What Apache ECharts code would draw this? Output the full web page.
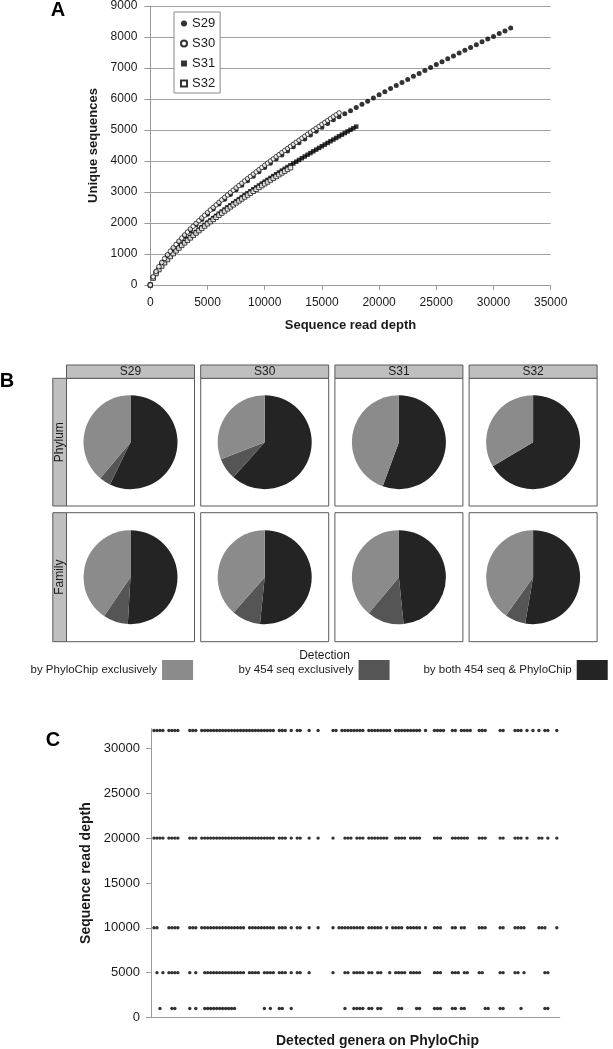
<!DOCTYPE html>
<html>
<head>
<meta charset="utf-8">
<script src="https://cdn.jsdelivr.net/npm/echarts@6/dist/echarts.min.js"></script>
<style>
html,body{margin:0;padding:0;background:#fff;}
#chart{width:613px;height:1049px;}
</style>
</head>
<body>
<div id="chart"></div>
<script>
// ---------- Panel A: rarefaction curves ----------
const depthS29 = [0,500,1000,1500,2000,2500,3000,3500,4000,4500,5000,5500,6000,6500,7000,7500,8000,8500,9000,9500,
  10000,10500,11000,11500,12000,12500,13000,13500,14000,14500,15000,15500,16000,16500,17000,17500,18000,18500,19000,19500,
  20000,20500,21000,21500,22000,22500,23000,23500,24000,24500,25000,25500,26000,26500,27000,27500,28000,28500,29000,29500,
  30000,30500,31000,31500];
const depthFine = [0,250,500,750,1000,1250,1500,1750,2000,2250,2500,2750,3000,3250,3500,3750,4000,4250,4500,4750,
  5000,5250,5500,5750,6000,6250,6500,6750,7000,7250,7500,7750,8000,8250,8500,8750,9000,9250,9500,9750,
  10000,10250,10500,10750,11000,11250,11500,11750,12000,12250,12500,12750,13000,13250,13500,13750,14000,14250,14500,14750,
  15000,15250,15500,15750,16000,16250,16500,16750,17000,17250,17500,17750,18000];
const uniqueS29 = [0,430,710,950,1170,1378,1572,1760,1940,2115,2285,2450,2610,2768,2922,3072,3220,3366,3509,3650,
  3789,3926,4061,4195,4326,4456,4585,4712,4838,4963,5086,5208,5329,5430,5525,5625,5725,5827,5931,6034,
  6136,6237,6337,6436,6535,6633,6730,6826,6921,7016,7110,7204,7297,7389,7481,7572,7663,7753,7843,7932,
  8020,8109,8196,8290];
const uniqueS30 = [0,266,440,590,727,854,975,1091,1202,1309,1413,1514,1612,1709,1803,1895,1986,2075,2164,2250,
  2335,2419,2502,2584,2665,2745,2825,2903,2980,3057,3133,3208,3283,3357,3431,3504,3576,3648,3719,3790,
  3860,3930,3999,4068,4136,4204,4272,4339,4405,4472,4538,4604,4669,4734,4798,4863,4927,4990,5053,5116,
  5179,5242,5304,5366,5427,5489,5550];
const uniqueS31 = [0,228,378,507,625,735,839,939,1034,1127,1217,1304,1389,1472,1553,1633,1712,1789,1865,1940,
  2014,2086,2158,2229,2299,2368,2437,2505,2572,2638,2704,2769,2834,2898,2962,3025,3087,3149,3211,3272,
  3333,3393,3453,3513,3572,3631,3690,3748,3806,3863,3920,3977,4033,4090,4146,4202,4257,4312,4367,4422,
  4476,4530,4584,4638,4691,4744,4797,4850,4902,4954,5006,5058,5110];
const uniqueS32 = [0,223,370,497,612,720,822,920,1013,1104,1193,1278,1361,1442,1522,1601,1678,1754,1828,1902,
  1974,2045,2115,2185,2253,2321,2388,2455,2521,2586,2650,2714,2777,2840,2903,2964,3025,3086,3147,3207,
  3266,3325,3384,3443,3501,3559,3616,3673,3730,3787];
const yTicksA = [0,1000,2000,3000,4000,5000,6000,7000,8000,9000];

// ---------- Panel B: detection pies (percent) ----------
const samples = ['S29','S30','S31','S32'];
const levels = ['Phylum','Family'];
const detectionNames = ['by both 454 seq & PhyloChip','by 454 seq exclusively','by PhyloChip exclusively'];
const phylumBoth   = [57.2, 61.6, 55.6, 66.4];
const phylum454    = [3.9, 7.5, 0, 0];
const phylumChip   = [38.9, 30.9, 44.4, 33.6];
const familyBoth   = [50.9, 51.6, 48.4, 52.7];
const family454    = [8.6, 9.9, 12.7, 7.1];
const familyChip   = [40.5, 38.5, 38.9, 40.2];

// ---------- Panel C: detected genera by read depth ----------
const readDepthLevels = [32000, 20000, 10000, 5000, 1000];
const genera32000 = [1,2,3,4,6,7,8,9,13,14,15,17,18,19,20,21,22,23,24,25,26,27,28,29,30,31,32,33,34,35,36,37,38,39,40,41,
  43,44,45,47,49,50,53,56,61,62,64,65,66,67,68,69,70,71,73,74,75,76,77,78,79,80,82,83,84,85,86,87,88,89,90,92,
  95,96,97,98,101,102,104,105,106,107,110,111,112,117,118,122,123,124,126,128,130,132,133,136];
const genera20000 = [1,2,3,4,6,7,8,9,13,14,15,17,18,19,20,21,22,23,24,25,26,27,28,29,30,31,32,33,34,35,36,37,38,39,40,41,
  43,44,45,47,49,50,53,56,61,65,66,67,69,70,71,73,74,75,76,77,78,79,82,83,84,85,87,88,89,90,
  95,96,97,101,102,103,104,105,106,110,111,112,117,118,122,123,124,126,130,131,133,136];
const genera10000 = [1,2,6,7,8,9,13,14,15,17,18,19,20,21,22,23,24,25,26,27,28,29,30,31,33,34,35,36,37,38,39,40,41,
  43,44,45,47,49,50,53,56,61,63,64,65,66,67,68,69,70,71,73,74,75,76,77,79,81,82,83,84,86,87,88,89,90,92,
  95,96,97,101,102,104,105,110,111,112,117,118,122,123,124,125,130,131,132,136];
const genera5000 = [2,4,6,7,8,9,13,15,18,19,20,21,22,23,24,25,26,27,28,29,30,31,33,34,35,36,38,39,40,41,
  43,44,45,47,49,50,53,61,65,66,68,69,70,71,73,74,76,77,80,82,83,84,85,87,88,89,90,
  95,96,97,101,102,103,105,106,110,111,117,118,122,123,125,132,133];
const genera1000 = [3,7,8,13,15,18,19,20,21,22,23,24,25,26,27,28,38,40,43,44,47,65,68,69,70,71,73,74,76,77,
  83,84,89,90,95,96,97,101,102,104,105,112,113,117,118,124,132,133];
const generaByDepth = [genera32000, genera20000, genera10000, genera5000, genera1000];

const FONT = 'Liberation Sans, Arial, sans-serif';
const TXT = '#1a1a1a';
const AX = '#9a9a9a';

function pairs(xs, ys){ return ys.map((y,i)=>[xs[i], y]); }
const plain = v => String(v);

const series = [];
// Panel A
series.push({name:'S29', type:'scatter', xAxisIndex:0, yAxisIndex:0, symbol:'circle', symbolSize:5,
  itemStyle:{color:'#000'}, data:pairs(depthS29, uniqueS29), silent:true, z:2});
series.push({name:'S31', type:'scatter', xAxisIndex:0, yAxisIndex:0, symbol:'rect', symbolSize:4.5,
  itemStyle:{color:'#000'}, data:pairs(depthFine, uniqueS31), silent:true, z:2});
series.push({name:'S32', type:'scatter', xAxisIndex:0, yAxisIndex:0, symbol:'rect', symbolSize:4.5,
  itemStyle:{color:'#fff', borderColor:'#000', borderWidth:0.9}, data:pairs(depthFine, uniqueS32), silent:true, z:3});
series.push({name:'S30', type:'scatter', xAxisIndex:0, yAxisIndex:0, symbol:'circle', symbolSize:4.5,
  itemStyle:{color:'#fff', borderColor:'#000', borderWidth:0.9}, data:pairs(depthFine, uniqueS30), silent:true, z:3});

// Panel B
const colLeft = [66.5, 200.7, 334.9, 469.1];
const panelW = 128;
const rowTop = [378.3, 512.7];
const rowH = [127.7, 129];
const pieColors = {'by both 454 seq & PhyloChip':'#242424','by 454 seq exclusively':'#555555','by PhyloChip exclusively':'#8b8b8b'};
const pieValues = [[phylumBoth, phylum454, phylumChip],[familyBoth, family454, familyChip]];
levels.forEach((lv, r)=>{
  samples.forEach((s, c)=>{
    const data = detectionNames.map((n, k)=>({name:n, value:pieValues[r][k][c], itemStyle:{color:pieColors[n]}}));
    series.push({type:'pie', name:lv+' '+s, center:[colLeft[c]+panelW/2, rowTop[r]+rowH[r]/2], radius:47,
      startAngle:90, clockwise:true, label:{show:false}, labelLine:{show:false}, silent:true,
      itemStyle:{borderWidth:0}, emphasis:{disabled:true}, data:data});
  });
});

// Panel C
readDepthLevels.forEach((d, k)=>{
  series.push({name:'depth '+d, type:'scatter', xAxisIndex:1, yAxisIndex:1, symbol:'circle', symbolSize:3.4,
    itemStyle:{color:'#000'}, data:generaByDepth[k].map(g=>[g, d]), silent:true});
});

// Decorations for panel B
const graphics = [];
levels.forEach((lv, r)=>{
  samples.forEach((s, c)=>{
    graphics.push({type:'rect', shape:{x:colLeft[c], y:rowTop[r], width:panelW, height:rowH[r]},
      style:{fill:'transparent', stroke:'#5a5a5a', lineWidth:1}});
  });
  graphics.push({type:'rect', shape:{x:52.8, y:rowTop[r], width:13.7, height:rowH[r]},
    style:{fill:'#bfbfbf', stroke:'#5a5a5a', lineWidth:1}});
  graphics.push({type:'text', x:59.6, y:rowTop[r]+rowH[r]/2, rotation:Math.PI/2,
    style:{text:lv, font:'12px '+FONT, fill:TXT, textAlign:'center', textVerticalAlign:'middle'}});
});
samples.forEach((s, c)=>{
  graphics.push({type:'rect', shape:{x:colLeft[c], y:365, width:panelW, height:13.3},
    style:{fill:'#bfbfbf', stroke:'#5a5a5a', lineWidth:1}});
  graphics.push({type:'text', x:colLeft[c]+panelW/2, y:372, style:{text:s, font:'12px '+FONT, fill:TXT, textAlign:'center', textVerticalAlign:'middle'}});
});
graphics.push({type:'text', x:324.5, y:656, style:{text:'Detection', font:'12px '+FONT, fill:TXT, textAlign:'center', textVerticalAlign:'middle'}});
// Panel letters & C x-title
graphics.push({type:'text', x:58, y:10, style:{text:'A', font:'bold 20px '+FONT, fill:'#000', textAlign:'center', textVerticalAlign:'middle'}});
graphics.push({type:'text', x:7, y:381, style:{text:'B', font:'bold 20px '+FONT, fill:'#000', textAlign:'center', textVerticalAlign:'middle'}});
graphics.push({type:'text', x:53, y:740, style:{text:'C', font:'bold 20px '+FONT, fill:'#000', textAlign:'center', textVerticalAlign:'middle'}});
graphics.push({type:'text', x:377.5, y:1040.7, style:{text:'Detected genera on PhyloChip', font:'bold 14px '+FONT, fill:TXT, textAlign:'center', textVerticalAlign:'middle'}});

const pieLegend = (name, left)=>({data:[name], left:left, top:660, padding:0, align:'right', icon:'rect',
  itemWidth:31, itemHeight:20, selectedMode:false, textStyle:{fontSize:11.5, color:TXT, fontFamily:FONT}});

const option = {
  animation:false,
  backgroundColor:'#fff',
  textStyle:{fontFamily:FONT},
  grid:[
    {left:150.3, top:4.2, width:400.4, height:280.8, containLabel:false},
    {left:151, top:728.7, width:408.8, height:288.8, containLabel:false}
  ],
  xAxis:[
    {gridIndex:0, type:'value', min:0, max:35000, interval:5000,
     axisLine:{show:true, lineStyle:{color:AX}}, axisTick:{show:true, length:5, lineStyle:{color:AX}},
     axisLabel:{fontSize:12, color:TXT, margin:12, formatter:plain}, splitLine:{show:false},
     name:'Sequence read depth', nameLocation:'middle', nameGap:34,
     nameTextStyle:{fontWeight:'bold', fontSize:13, color:TXT}},
    {gridIndex:1, type:'value', min:0, max:137,
     axisLine:{show:true, lineStyle:{color:AX}}, axisTick:{show:false}, axisLabel:{show:false}, splitLine:{show:false}}
  ],
  yAxis:[
    {gridIndex:0, type:'value', min:yTicksA[0], max:yTicksA[yTicksA.length-1], interval:1000,
     axisLine:{show:true, lineStyle:{color:AX}}, axisTick:{show:true, length:6, lineStyle:{color:AX}},
     axisLabel:{fontSize:12, color:TXT, margin:13, formatter:plain}, splitLine:{show:true, lineStyle:{color:'#a0a0a0'}},
     name:'Unique sequences', nameLocation:'middle', nameGap:37,
     nameTextStyle:{fontWeight:'bold', fontSize:13, color:TXT}},
    {gridIndex:1, type:'value', min:0, max:32200, interval:5000,
     axisLine:{show:true, lineStyle:{color:AX}}, axisTick:{show:true, length:5, lineStyle:{color:AX}},
     axisLabel:{fontSize:13, color:TXT, margin:11, showMaxLabel:false, formatter:plain}, splitLine:{show:false},
     name:'Sequence read depth', nameGap:45, nameLocation:'middle',
     nameTextStyle:{fontWeight:'bold', fontSize:14, color:TXT}}
  ],
  legend:[
    {data:['S29','S30','S31','S32'], orient:'vertical', left:174, top:12, padding:[5,5,3,6], itemGap:7,
     itemWidth:6, itemHeight:6, borderColor:'#8a8a8a', borderWidth:1, backgroundColor:'#fff', selectedMode:false,
     textStyle:{fontSize:13, color:TXT, fontFamily:FONT}},
    pieLegend('by PhyloChip exclusively', 30.5),
    pieLegend('by 454 seq exclusively', 238.5),
    pieLegend('by both 454 seq & PhyloChip', 423.4)
  ],
  graphic:graphics,
  series:series
};

const chart = echarts.init(document.getElementById('chart'), null, {renderer:'canvas'});
chart.setOption(option);
</script>
</body>
</html>
